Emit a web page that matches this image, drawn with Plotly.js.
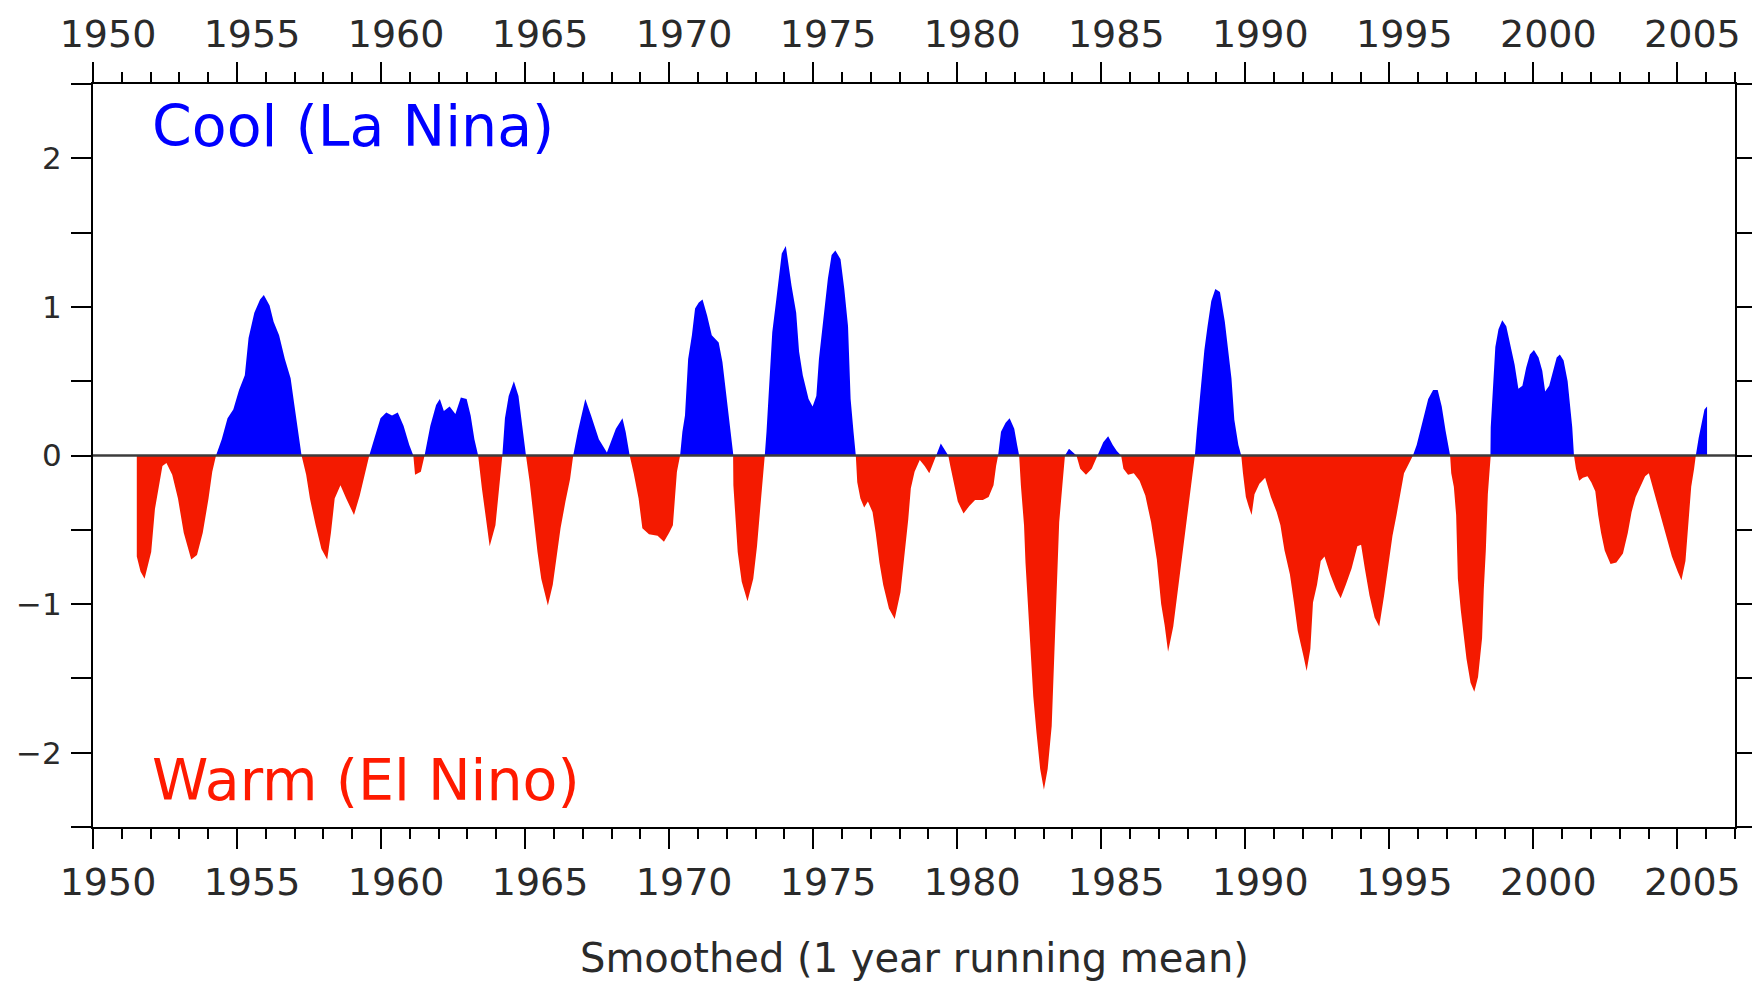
<!DOCTYPE html>
<html>
<head>
<meta charset="utf-8">
<script src="https://cdn.plot.ly/plotly-3.0.1.min.js"></script>
<style>
html, body { margin: 0; padding: 0; background: #ffffff; }
#chart { width: 1752px; height: 984px; }
</style>
</head>
<body>
<div id="chart"></div>
<script>
// ---- Data (year, smoothed index; cool/La Nina positive) ----
const years1950s = [1951.52,1951.65,1951.79,1952.02,1952.15,1952.28,1952.41,1952.55,1952.75,1952.95,1953.15,1953.41,1953.61,1953.81,1954.01,1954.14,1954.27,1954.47,1954.67,1954.87,1955.07,1955.27,1955.40,1955.60,1955.80,1955.93,1956.13,1956.27,1956.46,1956.66,1956.86,1956.99,1957.13,1957.24,1957.40,1957.53,1957.73,1957.93,1958.13,1958.26,1958.39,1958.59,1958.79,1959.06,1959.26,1959.45,1959.59,1959.79,1959.98];
const index1950s = [-0.68,-0.78,-0.83,-0.65,-0.36,-0.20,-0.07,-0.05,-0.13,-0.29,-0.52,-0.70,-0.67,-0.52,-0.29,-0.11,0,0.11,0.25,0.31,0.44,0.54,0.79,0.96,1.05,1.08,1.01,0.90,0.81,0.65,0.52,0.34,0.16,0,-0.13,-0.29,-0.47,-0.63,-0.70,-0.52,-0.29,-0.20,-0.29,-0.40,-0.27,-0.11,0,0.13,0.25];

const years1960s = [1960.18,1960.38,1960.58,1960.78,1960.98,1961.12,1961.18,1961.38,1961.51,1961.71,1961.91,1962.04,1962.18,1962.38,1962.58,1962.77,1962.97,1963.11,1963.24,1963.37,1963.50,1963.64,1963.77,1963.97,1964.10,1964.21,1964.30,1964.43,1964.61,1964.77,1964.90,1965.03,1965.16,1965.30,1965.43,1965.56,1965.79,1965.96,1966.09,1966.23,1966.40,1966.56,1966.67,1966.83,1967.09,1967.29,1967.56,1967.84,1968.15,1968.38,1968.49,1968.63,1968.77,1968.94,1969.07,1969.30,1969.60,1969.82];
const index1960s = [0.29,0.27,0.29,0.20,0.07,0,-0.13,-0.11,0,0.20,0.34,0.38,0.30,0.33,0.28,0.39,0.38,0.27,0.11,0,-0.22,-0.43,-0.61,-0.47,-0.22,0,0.25,0.40,0.50,0.40,0.20,0,-0.18,-0.43,-0.65,-0.83,-1.01,-0.87,-0.70,-0.49,-0.31,-0.16,0,0.16,0.38,0.27,0.11,0.02,0.18,0.25,0.16,0,-0.12,-0.29,-0.49,-0.53,-0.54,-0.58];

const years1970s = [1970.00,1970.13,1970.20,1970.27,1970.38,1970.46,1970.55,1970.66,1970.79,1970.90,1971.03,1971.16,1971.32,1971.48,1971.72,1971.85,1971.99,1972.09,1972.19,1972.22,1972.23,1972.30,1972.38,1972.52,1972.72,1972.92,1973.05,1973.16,1973.25,1973.32,1973.38,1973.45,1973.58,1973.72,1973.82,1973.91,1974.05,1974.25,1974.41,1974.51,1974.64,1974.84,1974.98,1975.11,1975.20,1975.33,1975.51,1975.64,1975.77,1975.95,1976.08,1976.21,1976.30,1976.40,1976.48,1976.53,1976.64,1976.77,1976.90,1977.06,1977.17,1977.30,1977.43,1977.63,1977.83,1978.03,1978.16,1978.30,1978.39,1978.52,1978.70,1978.87,1979.03,1979.16,1979.27,1979.43,1979.63,1979.69,1979.76,1979.89];
const index1970s = [-0.52,-0.47,-0.29,-0.11,0,0.16,0.27,0.65,0.81,0.99,1.03,1.05,0.94,0.81,0.76,0.63,0.40,0.25,0.07,0,-0.20,-0.45,-0.65,-0.85,-0.98,-0.83,-0.61,-0.36,-0.13,0,0.16,0.40,0.83,1.05,1.21,1.36,1.41,1.14,0.96,0.70,0.54,0.38,0.33,0.40,0.65,0.87,1.19,1.35,1.38,1.32,1.12,0.87,0.38,0.16,0,-0.18,-0.29,-0.35,-0.31,-0.38,-0.52,-0.72,-0.87,-1.03,-1.10,-0.92,-0.70,-0.43,-0.22,-0.11,-0.03,-0.07,-0.12,-0.06,0,0.08,0.02,0,-0.07,-0.18];

const years1980s = [1980.02,1980.22,1980.42,1980.62,1980.89,1981.09,1981.26,1981.35,1981.42,1981.52,1981.68,1981.82,1981.98,1982.08,1982.15,1982.21,1982.32,1982.37,1982.45,1982.55,1982.64,1982.75,1982.88,1983.01,1983.14,1983.28,1983.34,1983.41,1983.48,1983.54,1983.65,1983.74,1983.88,1984.07,1984.14,1984.27,1984.47,1984.67,1984.87,1985.07,1985.24,1985.40,1985.54,1985.69,1985.77,1985.93,1986.13,1986.33,1986.53,1986.73,1986.93,1987.08,1987.20,1987.32,1987.50,1987.70,1987.88,1988.02,1988.15,1988.25,1988.32,1988.40,1988.49,1988.58,1988.69,1988.82,1988.96,1989.12,1989.29,1989.42,1989.52,1989.62,1989.76,1989.86,1989.92];
const index1980s = [-0.31,-0.39,-0.34,-0.30,-0.30,-0.28,-0.20,-0.07,0,0.16,0.22,0.25,0.18,0.07,0,-0.20,-0.47,-0.72,-1.01,-1.30,-1.62,-1.86,-2.11,-2.25,-2.11,-1.82,-1.53,-1.08,-0.79,-0.45,-0.20,0,0.045,0.01,0,-0.09,-0.13,-0.09,0,0.09,0.13,0.07,0.03,0,-0.09,-0.13,-0.12,-0.17,-0.27,-0.45,-0.70,-1.00,-1.14,-1.32,-1.15,-0.85,-0.58,-0.38,-0.17,0,0.17,0.33,0.50,0.71,0.87,1.04,1.12,1.10,0.90,0.68,0.52,0.24,0.07,0,-0.12];

const years1990s = [1990.02,1990.13,1990.22,1990.32,1990.49,1990.69,1990.89,1991.09,1991.22,1991.36,1991.55,1991.69,1991.82,1992.02,1992.13,1992.26,1992.35,1992.49,1992.62,1992.75,1992.95,1993.15,1993.31,1993.49,1993.69,1993.89,1994.02,1994.15,1994.31,1994.49,1994.65,1994.82,1994.98,1995.11,1995.25,1995.38,1995.51,1995.69,1995.82,1995.95,1996.09,1996.22,1996.35,1996.52,1996.68,1996.82,1996.95,1997.06,1997.11,1997.15,1997.24,1997.32,1997.38,1997.48,1997.59,1997.68,1997.82,1997.95,1998.08,1998.22,1998.28,1998.35,1998.42,1998.48,1998.51,1998.52,1998.59,1998.68,1998.79,1998.92,1999.06,1999.19,1999.35,1999.48,1999.62,1999.75,1999.88];
const index1990s = [-0.28,-0.35,-0.40,-0.26,-0.19,-0.15,-0.28,-0.38,-0.47,-0.64,-0.80,-0.99,-1.18,-1.35,-1.45,-1.30,-0.99,-0.87,-0.71,-0.68,-0.80,-0.90,-0.96,-0.87,-0.76,-0.61,-0.60,-0.76,-0.94,-1.09,-1.15,-0.94,-0.73,-0.54,-0.40,-0.26,-0.12,-0.05,0,0.07,0.19,0.28,0.38,0.44,0.44,0.33,0.17,0.05,0,-0.12,-0.21,-0.40,-0.83,-1.04,-1.23,-1.37,-1.53,-1.59,-1.49,-1.23,-0.90,-0.64,-0.26,-0.07,0,0.19,0.47,0.73,0.85,0.91,0.87,0.76,0.61,0.45,0.47,0.59,0.68];

const years2000s = [2000.02,2000.18,2000.31,2000.41,2000.55,2000.68,2000.81,2000.92,2001.05,2001.19,2001.28,2001.35,2001.41,2001.48,2001.59,2001.72,2001.88,2002.01,2002.15,2002.25,2002.35,2002.48,2002.68,2002.88,2003.11,2003.28,2003.41,2003.55,2003.72,2003.88,2004.01,2004.21,2004.41,2004.61,2004.81,2005.01,2005.14,2005.28,2005.34,2005.41,2005.48,2005.58,2005.64,2005.74,2005.85,2005.94,2006.03];
const index2000s = [0.71,0.66,0.57,0.43,0.47,0.57,0.66,0.68,0.64,0.50,0.35,0.19,0,-0.09,-0.17,-0.15,-0.14,-0.18,-0.24,-0.40,-0.52,-0.64,-0.73,-0.72,-0.66,-0.52,-0.38,-0.28,-0.21,-0.14,-0.12,-0.26,-0.40,-0.54,-0.68,-0.78,-0.84,-0.71,-0.54,-0.35,-0.21,-0.09,0,0.12,0.24,0.31,0.33];

// ---- Axis labels and texts ----
const tickYears = [1950,1955,1960,1965,1970,1975,1980,1985,1990,1995,2000,2005];
const tickYearLabels = ['1950','1955','1960','1965','1970','1975','1980','1985','1990','1995','2000','2005'];
const yTickVals = [-2.5,-2,-1.5,-1,-0.5,0,0.5,1,1.5,2,2.5];
const yTickText = ['','\u22122','','\u22121','','0','','1','','2',''];
const coolLabel = 'Cool (La Nina)';
const warmLabel = 'Warm (El Nino)';
const captionText = 'Smoothed (1 year running mean)';

// ---- Build traces ----
const years = [].concat(years1950s, years1960s, years1970s, years1980s, years1990s, years2000s);
const index = [].concat(index1950s, index1960s, index1970s, index1980s, index1990s, index2000s);
const coolPart = index.map(v => (v > 0 ? v : 0));
const warmPart = index.map(v => (v < 0 ? v : 0));

const BLUE = '#0000ff';
const RED = '#f41a00';
const TEXT = '#2a2a2a';

const data = [
  {
    x: years, y: coolPart, type: 'scatter', mode: 'lines',
    fill: 'tozeroy', fillcolor: BLUE, line: { width: 0, color: BLUE },
    hoverinfo: 'skip', showlegend: false, xaxis: 'x', yaxis: 'y'
  },
  {
    x: years, y: warmPart, type: 'scatter', mode: 'lines',
    fill: 'tozeroy', fillcolor: RED, line: { width: 0, color: RED },
    hoverinfo: 'skip', showlegend: false, xaxis: 'x2', yaxis: 'y'
  }
];

const xTickFont = { family: 'DejaVu Sans', size: 38, color: TEXT };
const xAxisCommon = {
  range: [1950, 2007],
  tickmode: 'array', tickvals: tickYears, ticktext: tickYearLabels,
  ticks: 'outside', ticklen: 20, tickwidth: 2, tickcolor: '#000',
  showline: true, linewidth: 2, linecolor: '#000',
  showgrid: false, zeroline: false,
  minor: { dtick: 1, tick0: 1950, ticks: 'outside', ticklen: 10, tickwidth: 2, tickcolor: '#000', showgrid: false },
  tickfont: xTickFont, ticklabelshift: 15,
  layer: 'above traces', fixedrange: true
};

const layout = {
  width: 1752, height: 984,
  margin: { l: 93, r: 17, t: 84, b: 157, pad: 0 },
  paper_bgcolor: '#ffffff', plot_bgcolor: '#ffffff',
  showlegend: false,
  xaxis: Object.assign({}, xAxisCommon, { side: 'bottom', anchor: 'y' }),
  xaxis2: Object.assign({}, xAxisCommon, { side: 'top', anchor: 'y', overlaying: 'x', matches: 'x' }),
  yaxis: {
    range: [-2.5, 2.5],
    tickmode: 'array', tickvals: yTickVals, ticktext: yTickText,
    ticks: 'outside', ticklen: 20, tickwidth: 2, tickcolor: '#000',
    showline: true, linewidth: 2, linecolor: '#000', mirror: 'allticks',
    showgrid: false, zeroline: false,
    tickfont: { family: 'DejaVu Sans', size: 31, color: TEXT },
    ticklabelstandoff: 3,
    layer: 'above traces', fixedrange: true
  },
  shapes: [
    { type: 'line', xref: 'paper', yref: 'y', x0: 0, x1: 1, y0: 0, y1: 0,
      line: { color: '#3c3c3c', width: 2.5 }, layer: 'above' }
  ],
  annotations: [
    { text: coolLabel, xref: 'paper', yref: 'paper', x: 0.035, y: 0.943,
      xanchor: 'left', yanchor: 'middle', showarrow: false,
      font: { family: 'DejaVu Sans', size: 57, color: BLUE } },
    { text: warmLabel, xref: 'paper', yref: 'paper', x: 0.035, y: 0.063,
      xanchor: 'left', yanchor: 'middle', showarrow: false,
      font: { family: 'DejaVu Sans', size: 57, color: '#ff1a00' } },
    { text: captionText, xref: 'paper', yref: 'paper', x: 0.5, y: -0.1766,
      xanchor: 'center', yanchor: 'middle', showarrow: false,
      font: { family: 'DejaVu Sans', size: 40, color: TEXT } }
  ]
};

Plotly.newPlot('chart', data, layout, { staticPlot: true, displayModeBar: false });
</script>
</body>
</html>
